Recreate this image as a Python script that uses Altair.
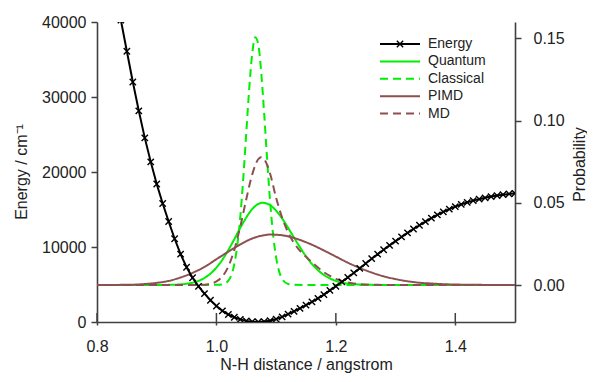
import altair as alt
import pandas as pd

# ---------------- data ----------------
x_ticks = [0.8, 1.0, 1.2, 1.4]
energy_ticks = [0, 10000, 20000, 30000, 40000]
prob_ticks = [0.0, 0.05, 0.10, 0.15]

energy_r = [0.84, 0.85, 0.86, 0.87, 0.88, 0.89, 0.90, 0.91, 0.92, 0.93,
            0.94, 0.95, 0.96, 0.97, 0.98, 0.99, 1.00, 1.01, 1.02, 1.03,
            1.04, 1.05, 1.06, 1.07, 1.08, 1.09, 1.10, 1.11, 1.12, 1.13,
            1.14, 1.15, 1.16, 1.17, 1.18, 1.19, 1.20, 1.21, 1.22, 1.23,
            1.24, 1.25, 1.26, 1.27, 1.28, 1.29, 1.30, 1.31, 1.32, 1.33,
            1.34, 1.35, 1.36, 1.37, 1.38, 1.39, 1.40, 1.41, 1.42, 1.43,
            1.44, 1.45, 1.46, 1.47, 1.48, 1.49, 1.50]
energy_e = [40240, 36100, 32000, 28150, 24550, 21350, 18400, 15800, 13400, 11100,
            9050, 7300, 5900, 4750, 3780, 2900, 2130, 1490, 1000, 630,
            350, 150, 35, 0, 52, 174, 390, 680, 1040, 1410,
            1810, 2240, 2690, 3160, 3655, 4210, 4770, 5340, 5940, 6540,
            7160, 7800, 8440, 9040, 9630, 10220, 10780, 11340, 11890, 12400,
            12900, 13390, 13840, 14290, 14690, 15060, 15390, 15690, 15950, 16180,
            16380, 16560, 16720, 16860, 16980, 17080, 17160]

quantum_r = [0.80, 0.90, 0.92, 0.94, 0.95, 0.96, 0.97, 0.98, 0.99, 1.00,
             1.01, 1.02, 1.03, 1.04, 1.05, 1.06, 1.07, 1.0775, 1.09, 1.10,
             1.11, 1.12, 1.13, 1.14, 1.15, 1.16, 1.17, 1.18, 1.19, 1.20,
             1.21, 1.22, 1.24, 1.26, 1.30, 1.50]
quantum_p = [0, 0, 0.0001, 0.0004, 0.0008, 0.0014, 0.0025, 0.0043, 0.0069, 0.0106,
             0.0154, 0.0213, 0.0279, 0.0348, 0.0411, 0.0462, 0.0493, 0.0500, 0.0485, 0.0452,
             0.0405, 0.0348, 0.0288, 0.0229, 0.0175, 0.0128, 0.0090, 0.0061, 0.0040, 0.0025,
             0.0015, 0.0009, 0.0003, 0.0001, 0, 0]

classical_r = [0.80, 0.95, 1.00, 1.01, 1.02, 1.03, 1.035, 1.04, 1.045, 1.05,
               1.055, 1.06, 1.065, 1.07, 1.075, 1.08, 1.085, 1.09, 1.095, 1.10,
               1.105, 1.11, 1.12, 1.13, 1.20, 1.50]
classical_p = [0, 0, 0.0001, 0.0004, 0.0027, 0.0128, 0.0242, 0.0417, 0.0652, 0.0927,
               0.1199, 0.1410, 0.1507, 0.1465, 0.1294, 0.1040, 0.0759, 0.0504, 0.0304, 0.0167,
               0.0083, 0.0038, 0.0006, 0.0001, 0, 0]

pimd_r = [0.80, 0.82, 0.84, 0.86, 0.88, 0.90, 0.92, 0.94, 0.96, 0.98,
          1.00, 1.02, 1.04, 1.06, 1.08, 1.09, 1.10, 1.12, 1.14, 1.16,
          1.18, 1.20, 1.22, 1.24, 1.26, 1.28, 1.30, 1.32, 1.34, 1.36,
          1.38, 1.40, 1.44, 1.50]
pimd_p = [0, 0, 0.0001, 0.0002, 0.0006, 0.0013, 0.0025, 0.0046, 0.0074, 0.0110,
          0.0157, 0.0203, 0.0247, 0.0283, 0.0303, 0.0307, 0.0306, 0.0296, 0.0274, 0.0245,
          0.0210, 0.0173, 0.0136, 0.0104, 0.0076, 0.0053, 0.0036, 0.0023, 0.0014, 0.0009,
          0.0005, 0.0003, 0.0001, 0]

md_r = [0.80, 0.95, 0.98, 0.99, 1.00, 1.01, 1.02, 1.03, 1.04, 1.05,
        1.06, 1.07, 1.075, 1.08, 1.09, 1.10, 1.11, 1.12, 1.13, 1.14,
        1.15, 1.16, 1.17, 1.18, 1.19, 1.20, 1.21, 1.22, 1.24, 1.27,
        1.30, 1.50]
md_p = [0, 0, 0.0002, 0.0008, 0.0022, 0.0052, 0.0113, 0.0214, 0.0356, 0.0522,
        0.0673, 0.0765, 0.0777, 0.0765, 0.0675, 0.0530, 0.0410, 0.0320, 0.0255, 0.0208,
        0.0172, 0.0138, 0.0106, 0.0078, 0.0055, 0.0037, 0.0024, 0.0015, 0.0005, 0.0001,
        0, 0]

series_names = ["Energy", "Quantum", "Classical", "PIMD", "MD"]
series_colors = ["#000000", "#00ee00", "#00ee00", "#8c5050", "#8c5050"]
series_dash = [[1, 0], [1, 0], [8, 5], [1, 0], [8, 5]]

# ---------------- tables ----------------
energy_df = pd.DataFrame({"r": energy_r, "e": energy_e})
rows = []
for name, rs, ps in [("Quantum", quantum_r, quantum_p),
                     ("Classical", classical_r, classical_p),
                     ("PIMD", pimd_r, pimd_p),
                     ("MD", md_r, md_p)]:
    for r, p in zip(rs, ps):
        rows.append({"r": r, "p": p, "series": name})
prob_df = pd.DataFrame(rows)
ticks_df = pd.DataFrame({"r": x_ticks})

FONT = "Liberation Sans"
AXC = "#404040"
TXT = "#222222"
XSHAPE = "M-1,-1L1,1M-1,1L1,-1"

x_enc = alt.X(
    "r:Q",
    scale=alt.Scale(domain=[0.8, 1.5], nice=False, zero=False),
    axis=alt.Axis(values=x_ticks, format=".1f", tickSize=3, labelPadding=13,
                  labelFlush=False, labelOverlap=False,
                  title="N-H distance / angstrom", titleY=47,
                  titleBaseline="alphabetic", grid=False),
)

prob_lines = alt.Chart(prob_df).mark_line(strokeWidth=2, interpolate="monotone").encode(
    x=x_enc,
    y=alt.Y("p:Q",
            scale=alt.Scale(domain=[-0.0225, 0.16], nice=False, zero=False),
            axis=alt.Axis(orient="right", values=prob_ticks, format=".2f",
                          tickSize=6, labelPadding=12, title="Probability",
                          labelFlush=False, labelOverlap=False,
                          titleAngle=270, titleX=64, titleY=142,
                          titleAlign="center", titleBaseline="middle", grid=False)),
    color=alt.Color("series:N", scale=alt.Scale(domain=series_names[1:], range=series_colors[1:]), legend=None),
    strokeDash=alt.StrokeDash("series:N", scale=alt.Scale(domain=series_names[1:], range=series_dash[1:]), legend=None),
    detail="series:N",
    order=alt.Order("r:Q"),
)

e_y = alt.Y("e:Q",
            scale=alt.Scale(domain=[0, 40000], nice=False),
            axis=alt.Axis(orient="left", values=energy_ticks, format="d",
                          tickSize=6, labelPadding=5, title="Energy / cm⁻¹",
                          labelFlush=False, labelOverlap=False,
                          titleAngle=270, titleX=-76, titleY=149.5,
                          titleAlign="center", titleBaseline="middle", grid=False))

energy_line = alt.Chart(energy_df).mark_line(color="black", strokeWidth=2, clip=True).encode(
    x=x_enc, y=e_y, order=alt.Order("r:Q"))
energy_pts = alt.Chart(energy_df).mark_point(shape=XSHAPE, size=40, filled=False,
                                             stroke="black", strokeWidth=1.4,
                                             opacity=1, clip=True).encode(x=x_enc, y=e_y)
energy_layer = alt.layer(energy_line, energy_pts)

inner_ticks = alt.Chart(ticks_df).mark_rule(color=AXC, strokeWidth=1.5).encode(
    x=x_enc, y=alt.value(291), y2=alt.value(300))

# ---------------- legend (drawn inside the plot, top right) ----------------
legend_layers = []
for i, (name, col, dash) in enumerate(zip(series_names, series_colors, series_dash)):
    ly = 22 + i * 17.4
    ldf = pd.DataFrame({"t": [name]})
    legend_layers.append(
        alt.Chart(ldf).mark_rule(color=col, strokeWidth=2, strokeDash=dash).encode(
            x=alt.value(283), x2=alt.value(323), y=alt.value(ly)))
    if name == "Energy":
        legend_layers.append(
            alt.Chart(ldf).mark_point(shape=XSHAPE, size=40, filled=False, stroke="black",
                                      strokeWidth=1.4, opacity=1).encode(
                x=alt.value(303), y=alt.value(ly)))
    legend_layers.append(
        alt.Chart(ldf).mark_text(align="left", baseline="middle", fontSize=14,
                                 font=FONT, color=TXT).encode(
            x=alt.value(331), y=alt.value(ly), text="t:N"))

chart = alt.layer(prob_lines, energy_layer, inner_ticks, *legend_layers).resolve_scale(
    y="independent"
).properties(
    width=418, height=300,
    autosize=alt.AutoSizeParams(type="none"),
    padding={"left": 89, "top": 14, "right": 72, "bottom": 52},
).configure(font=FONT).configure_view(stroke=None).configure_axis(
    domainColor=AXC, domainWidth=1.6, tickColor=AXC, tickWidth=1.5,
    labelFont=FONT, labelFontSize=16, labelColor=TXT,
    titleFont=FONT, titleFontSize=16, titleColor=TXT, titleFontWeight="normal",
)

chart.save("out.html", embed_options={"renderer": "svg", "actions": False})
